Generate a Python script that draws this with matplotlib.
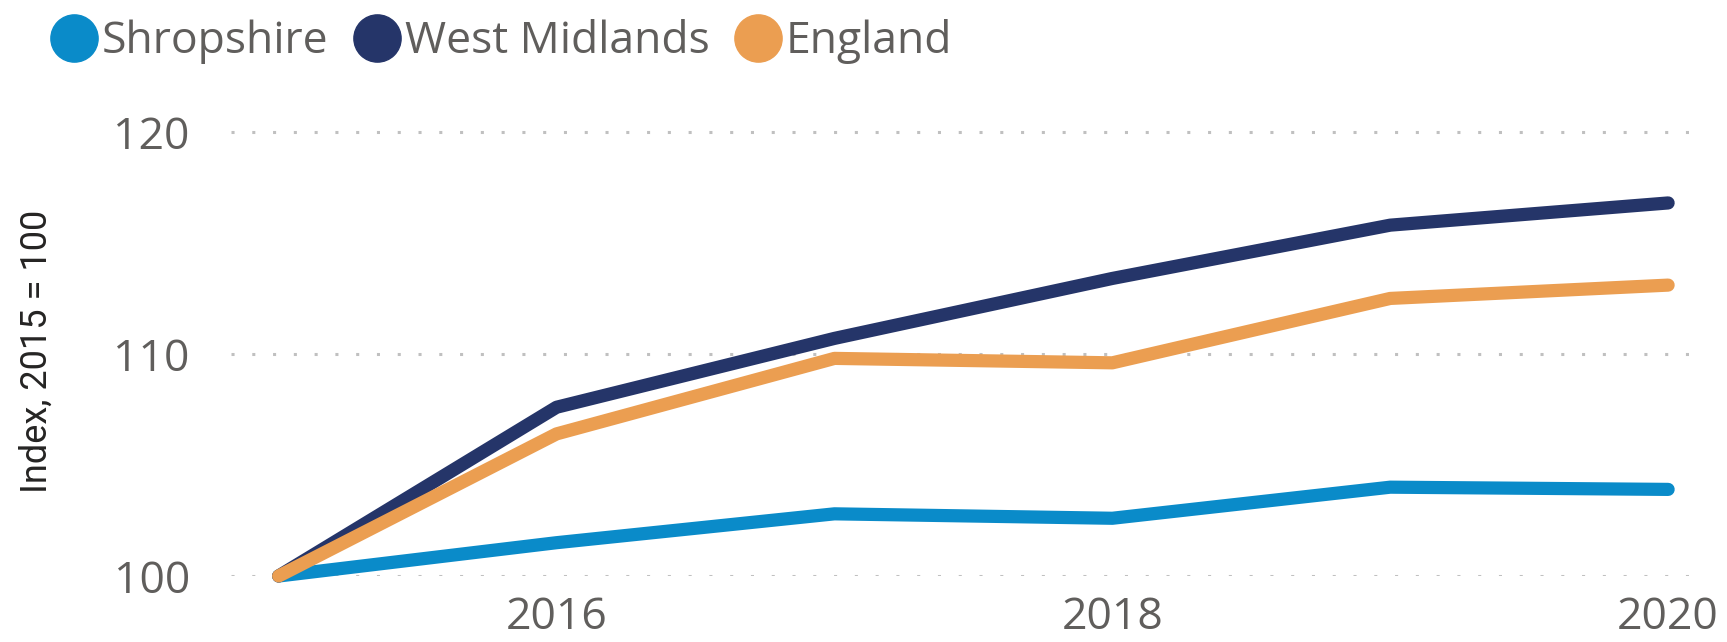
import matplotlib
matplotlib.use("Agg")
import matplotlib.pyplot as plt
from matplotlib.lines import Line2D

years = [2015, 2016, 2017, 2018, 2019, 2020]
shropshire = [100.0, 101.5, 102.8, 102.6, 104.0, 103.9]
west_midlands = [100.0, 107.6, 110.7, 113.4, 115.8, 116.8]
england = [100.0, 106.4, 109.8, 109.6, 112.5, 113.1]
series_names = ["Shropshire", "West Midlands", "England"]
colors = ["#0A8BC9", "#253569", "#EB9E51"]
xticks = [2016, 2018, 2020]
yticks = [100, 110, 120]

plt.rcParams['font.family'] = ['Open Sans', 'DejaVu Sans']

fig = plt.figure(figsize=(17.27, 6.42), dpi=100)
ax = fig.add_axes([0.134, 0.1028, 0.982 - 0.134, 0.7056])

for vals, c in zip([shropshire, west_midlands, england], colors):
    ax.plot(years, vals, color=c, lw=9.5, solid_capstyle='round',
            solid_joinstyle='round', clip_on=False, zorder=3)

ax.set_xlim(2014.83, 2020.1)
ax.set_ylim(100, 120.4)
ax.set_xticks(xticks)
ax.set_xticklabels([str(t) for t in xticks])
ax.set_yticks(yticks)
ax.set_yticklabels([str(t) for t in yticks])
for s in ax.spines.values():
    s.set_visible(False)
ax.tick_params(axis='both', length=0, labelsize=32, labelcolor='#605E5C')
ax.tick_params(axis='y', pad=30)
ax.tick_params(axis='x', pad=14)
ax.grid(axis='y', color='#C0C0C0', lw=2.2, linestyle=(0, (1, 5.8)))
ax.set_axisbelow(True)

fig.text(0.021, 0.452, "Index, 2015 = 100", rotation=90, ha='center',
         va='center', fontsize=26, color='#252423', family=['Roboto', 'DejaVu Sans'],
         fontweight='normal')

handles = [Line2D([], [], marker='o', linestyle='none', markersize=34,
                  markerfacecolor=c, markeredgecolor=c) for c in colors]
fig.legend(handles, series_names, loc='center left', bbox_to_anchor=(0.03, 0.935),
           ncol=3, frameon=False, fontsize=32, labelcolor='#605E5C',
           handlelength=1.0, handletextpad=0.12, columnspacing=0.6,
           borderaxespad=0, borderpad=0)

fig.savefig("out.png", dpi=100)
